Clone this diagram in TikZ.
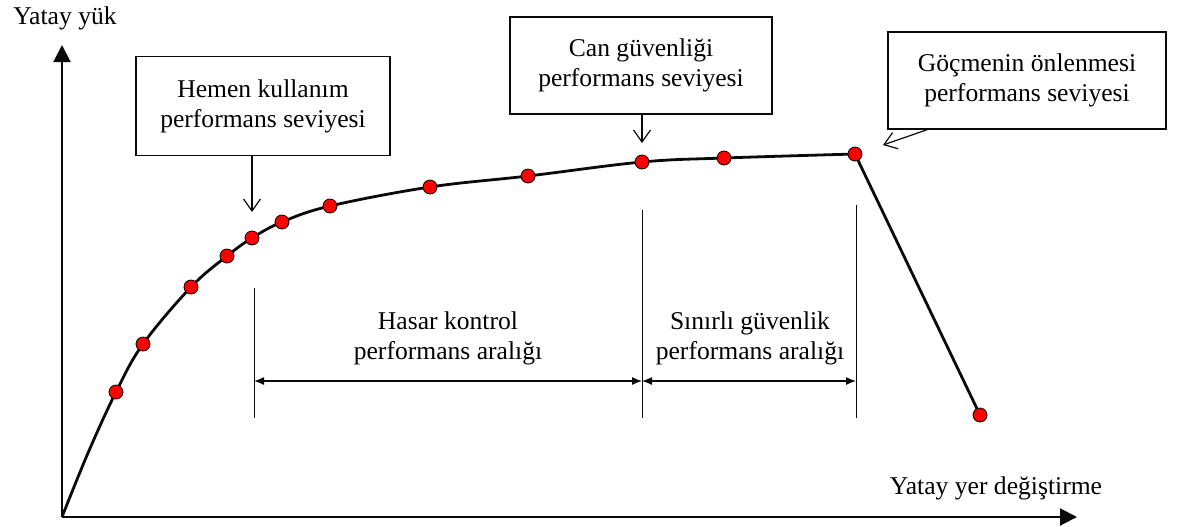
\documentclass[tikz,border=0pt]{standalone}
\usepackage{fontspec}
\setmainfont{Liberation Serif}
\usetikzlibrary{arrows.meta}

\definecolor{ptred}{RGB}{255, 0, 0}
\definecolor{ptline}{RGB}{10, 10, 10}

\begin{document}
\begin{tikzpicture}[
    x=0.5pt, y=-0.5pt,
    font=\fontsize{12.8}{15}\selectfont,
    axis/.style={draw=ptline, line width=1pt, -{Triangle[length=8.5pt, width=8.5pt]}},
    curve/.style={draw=ptline, line width=1.4pt, line join=round},
    dot/.style={circle, draw=black, line width=0.4pt, fill=ptred, inner sep=0pt, minimum size=7pt},
    levelbox/.style={draw=ptline, line width=0.6pt, align=center, inner sep=0pt},
    callout/.style={draw=ptline, line width=0.6pt, -{Straight Barb[length=6pt, width=8.5pt]}},
    limit/.style={draw=ptline, line width=0.5pt},
    spanarrow/.style={draw=ptline, line width=0.6pt, {Latex[length=5pt, width=4pt]}-{Latex[length=5pt, width=4pt]}},
  ]
    \useasboundingbox (0, 0) rectangle (1177, 526);

    % --- axes
    \coordinate (o) at (62, 517);
    \coordinate (ytop) at (62, 45);
    \coordinate (xend) at (1077, 517);
    \draw[axis] (o) -- (ytop);
    \draw[axis] (o) -- (xend);
    \node (ylab) at (65, 18) {Yatay yük};
    \node (xlab) at (996, 488) {Yatay yer değiştirme};

    % --- capacity curve (points c1..c12 on the smooth part, c13 at collapse)
    \foreach \k/\px/\py in {1/116/392, 2/143/344, 3/191/287, 4/227/256, 5/252/238,
                            6/282/222, 7/330/206, 8/430/187, 9/528/176, 10/642/162,
                            11/724/158, 12/855/154, 13/980/415} {
      \coordinate (c\k) at (\px, \py);
    }
    \coordinate (c0) at (88, 453);
    \draw[curve] plot[smooth, tension=0.6] coordinates {(o) (c0) (c1) (c2) (c3) (c4) (c5)
      (c6) (c7) (c8) (c9) (c10) (c11) (c12)};
    \draw[curve] (c12) -- (c13);
    \foreach \k in {1,...,13} {
      \node[dot] (d\k) at (c\k) {};
    }

    % --- performance levels
    \node[levelbox, minimum width=127pt, minimum height=49.5pt] (hemen) at (263, 106)
      {Hemen kullanım\\performans seviyesi};
    \node[levelbox, minimum width=131pt, minimum height=48.5pt] (can) at (641, 65.5)
      {Can güvenliği\\performans seviyesi};
    \node[levelbox, minimum width=139pt, minimum height=48.5pt] (gocme) at (1027, 80.5)
      {Göçmenin önlenmesi\\performans seviyesi};

    \coordinate (t1) at (252, 212);
    \coordinate (t2) at (642, 143);
    \coordinate (t3) at (883, 145);
    \draw[callout] ([xshift=-5.5pt]hemen.south) -- (t1);
    \draw[callout] ([xshift=0.5pt]can.south) -- (t2);
    \draw[callout] ([xshift=20pt]gocme.south west) -- (t3);

    % --- performance ranges
    \foreach \n/\px/\ptop in {a/254/288, b/642/210, c/856/205} {
      \coordinate (\n top) at (\px, \ptop);
      \coordinate (\n bot) at (\px, 418);
      \coordinate (\n mid) at (\px, 381);
      \draw[limit] (\n top) -- (\n bot);
    }
    \draw[spanarrow] (amid) -- (bmid);
    \draw[spanarrow] (bmid) -- (cmid);
    \node[align=center] (hasar) at (448, 338) {Hasar kontrol\\performans aralığı};
    \node[align=center] (sinirli) at (750, 338) {Sınırlı güvenlik\\performans aralığı};
  \end{tikzpicture}
\end{document}
